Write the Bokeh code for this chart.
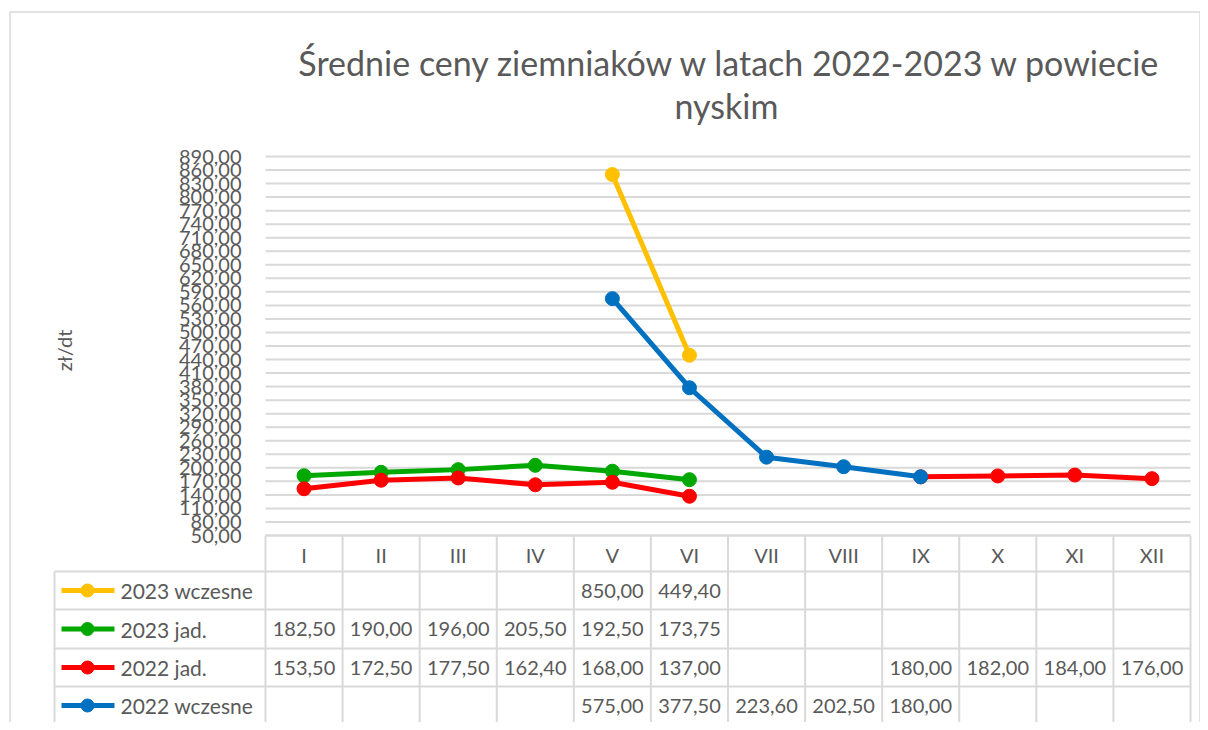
import math
from bokeh.plotting import figure
from bokeh.embed import file_html
from bokeh.resources import INLINE
from bokeh.core.properties import value

# ---------------- data ----------------
months = ["I", "II", "III", "IV", "V", "VI", "VII", "VIII", "IX", "X", "XI", "XII"]
series_names = ["2023 wczesne", "2023 jad.", "2022 jad.", "2022 wczesne"]
s2023_wczesne = [None, None, None, None, 850.00, 449.40, None, None, None, None, None, None]
s2023_jad = [182.50, 190.00, 196.00, 205.50, 192.50, 173.75, None, None, None, None, None, None]
s2022_jad = [153.50, 172.50, 177.50, 162.40, 168.00, 137.00, None, None, 180.00, 182.00, 184.00, 176.00]
s2022_wczesne = [None, None, None, None, 575.00, 377.50, 223.60, 202.50, 180.00, None, None, None]
y_ticks = list(range(50, 891, 30))
title_lines = ["Średnie ceny ziemniaków w latach 2022-2023 w powiecie", "nyskim"]
y_title = "zł/dt"

series_values = [s2023_wczesne, s2023_jad, s2022_jad, s2022_wczesne]
series_colors = ["#FFC000", "#00A800", "#FF0000", "#0070C0"]

# ---------------- layout (page pixels) ----------------
W, H = 1200, 722
OFF = 0
PLOT_L, PLOT_R = 265, 1190
PLOT_T, PLOT_B = 156, 535
COLW = (PLOT_R - PLOT_L) / len(months)
PPU = (PLOT_B - PLOT_T) / (y_ticks[-1] - y_ticks[0])


def X(px):
    return -0.5 + (px - PLOT_L) / COLW


def Y(py):
    return y_ticks[0] - (py - PLOT_B) / PPU


GRAY = "#595959"
LINE = "#d9d9d9"
FONT = value("Lato")

p = figure(width=W, height=H, output_backend="svg", toolbar_location=None,
           x_range=(X(OFF), X(OFF + W)), y_range=(Y(OFF + H), Y(OFF)),
           x_axis_location=None, y_axis_location=None,
           min_border=0, tools="")
p.xgrid.visible = False
p.ygrid.visible = False
p.outline_line_color = None
p.background_fill_color = "white"
p.border_fill_color = "white"

# chart border
p.quad(left=[X(9.5)], right=[X(1199.5)], top=[Y(11.5)], bottom=[Y(760)],
       fill_color=None, line_color=LINE, line_width=1.5)

# horizontal gridlines
p.segment(x0=[X(PLOT_L)] * len(y_ticks), x1=[X(PLOT_R)] * len(y_ticks),
          y0=y_ticks, y1=y_ticks, line_color=LINE, line_width=2)

# y tick labels
p.text(x=[X(241)] * len(y_ticks), y=y_ticks,
       text=[f"{t:.2f}".replace(".", ",") for t in y_ticks],
       text_font=FONT, text_font_size="20px", text_color=GRAY,
       text_align="right", text_baseline="middle")

# y axis title
p.text(x=[X(63)], y=[Y(350)], text=[y_title], angle=math.pi / 2,
       text_font=FONT, text_font_size="20px", text_color=GRAY,
       text_align="center", text_baseline="middle")

# title
p.text(x=[X(730), X(726)], y=[Y(62), Y(105)], text=title_lines,
       text_font=FONT, text_font_size="34px", text_color=GRAY,
       text_align="center", text_baseline="middle")

# ---------------- table ----------------
TBL_L = 54
row_edges = [571, 609, 648, 686, 724]
row_centers = [(row_edges[i] + row_edges[i + 1]) / 2 for i in range(4)]
col_edges = [PLOT_L + i * COLW for i in range(len(months) + 1)]

# horizontal table lines
hx0 = [X(PLOT_L)] + [X(TBL_L)] * len(row_edges)
hx1 = [X(PLOT_R)] * (len(row_edges) + 1)
hy = [Y(PLOT_B)] + [Y(r) for r in row_edges]
p.segment(x0=hx0, x1=hx1, y0=hy, y1=hy, line_color=LINE, line_width=2)
# vertical table lines
vx = [X(c) for c in col_edges] + [X(TBL_L)]
vy0 = [Y(PLOT_B)] * len(col_edges) + [Y(row_edges[0])]
vy1 = [Y(row_edges[-1])] * (len(col_edges) + 1)
p.segment(x0=vx, x1=vx, y0=vy0, y1=vy1, line_color=LINE, line_width=2)

# header
p.text(x=list(range(len(months))), y=[Y(554)] * len(months), text=months,
       text_font=FONT, text_font_size="20px", text_color=GRAY,
       text_align="center", text_baseline="middle")

# rows
for r, (name, vals, col) in enumerate(zip(series_names, series_values, series_colors)):
    yc = Y(row_centers[r])
    p.line(x=[X(61), X(114)], y=[yc, yc], line_color=col, line_width=5)
    p.scatter(x=[X(87)], y=[yc], size=13, color=col)
    p.text(x=[X(120)], y=[yc], text=[name], text_font=FONT, text_font_size="21px",
           text_color=GRAY, text_align="left", text_baseline="middle")
    xs = [i for i, v in enumerate(vals) if v is not None]
    p.text(x=xs, y=[yc] * len(xs),
           text=[f"{vals[i]:.2f}".replace(".", ",") for i in xs],
           text_font=FONT, text_font_size="20px", text_color=GRAY,
           text_align="center", text_baseline="middle")

# ---------------- series lines ----------------
for vals, col in zip(series_values, series_colors):
    xs = list(range(len(months)))
    ys = [v if v is not None else float("nan") for v in vals]
    p.line(x=xs, y=ys, line_color=col, line_width=5)
    px = [i for i, v in enumerate(vals) if v is not None]
    p.scatter(x=px, y=[vals[i] for i in px], size=14, color=col)

open("out.html", "w").write(file_html(p, INLINE))
